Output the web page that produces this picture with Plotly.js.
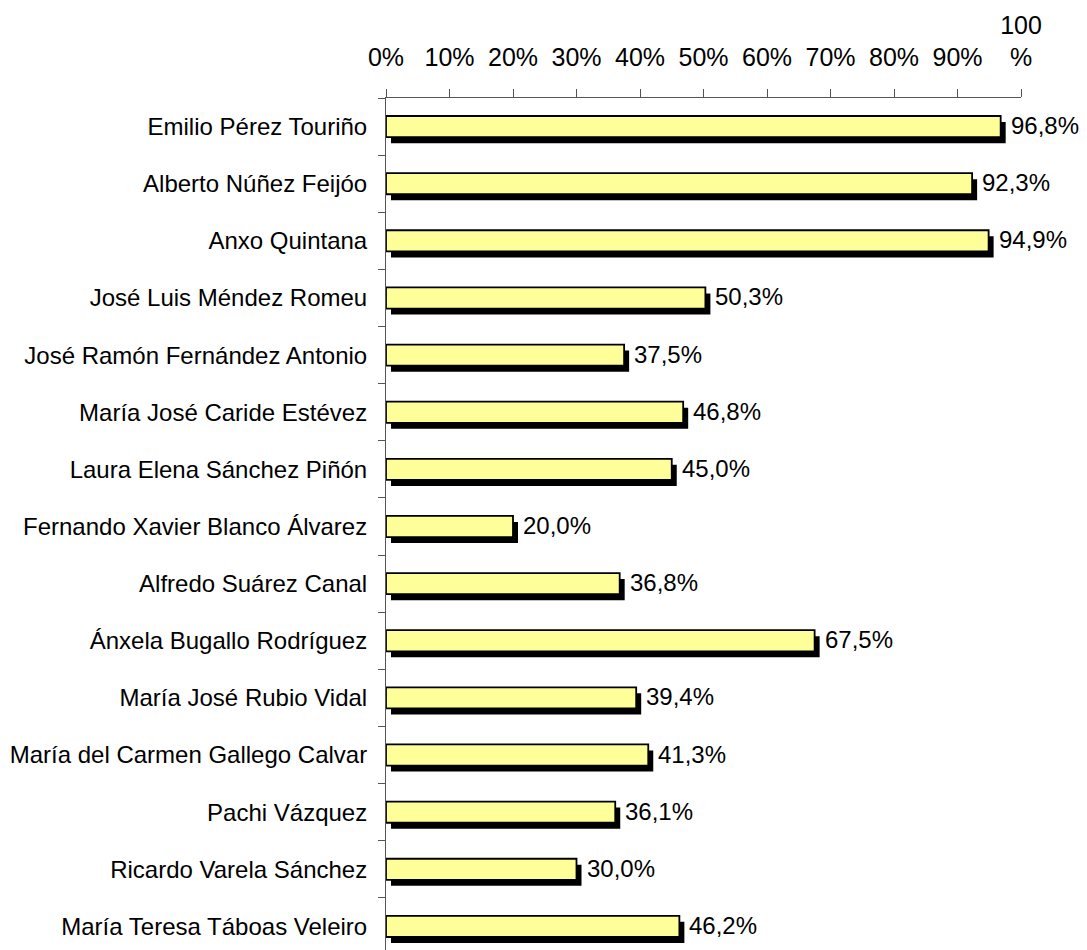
<!DOCTYPE html>
<html>
<head>
<meta charset="utf-8">
<script src="https://cdn.plot.ly/plotly-3.0.1.min.js"></script>
<style>html,body{margin:0;padding:0;background:#fff;overflow:hidden}</style>
</head>
<body>
<div id="chart" style="width:1087px;height:955px"></div>
<script>
const categories = [
  "Emilio Pérez Touriño",
  "Alberto Núñez Feijóo",
  "Anxo Quintana",
  "José Luis Méndez Romeu",
  "José Ramón Fernández Antonio",
  "María José Caride Estévez",
  "Laura Elena Sánchez Piñón",
  "Fernando Xavier Blanco Álvarez",
  "Alfredo Suárez Canal",
  "Ánxela Bugallo Rodríguez",
  "María José Rubio Vidal",
  "María del Carmen Gallego Calvar",
  "Pachi Vázquez",
  "Ricardo Varela Sánchez",
  "María Teresa Táboas Veleiro"
];
const values = [96.8, 92.3, 94.9, 50.3, 37.5, 46.8, 45.0, 20.0, 36.8, 67.5, 39.4, 41.3, 36.1, 30.0, 46.2];
const tickVals = [0, 10, 20, 30, 40, 50, 60, 70, 80, 90, 100];
const tickText = ["0%", "10%", "20%", "30%", "40%", "50%", "60%", "70%", "80%", "90%", "100<br>%"];

const FONT = "Liberation Sans, Arial, sans-serif";
const W = 1087, H = 955, ML = 386, MR = 66, MT = 98, MB = 0;
const pxPerUnitX = (W - ML - MR) / 100;
const pxPerCat = (H - MT - MB) / categories.length;
const shadowPxX = 5, shadowPxY = 6;
const barW = 0.37;

const fmt = v => v.toFixed(1).replace('.', ',') + '%';

const shadow = {
  type: 'bar', orientation: 'h',
  y: categories, x: values,
  base: shadowPxX / pxPerUnitX,
  width: barW, offset: -barW / 2 + shadowPxY / pxPerCat,
  marker: {color: '#000000', line: {width: 0}},
  hoverinfo: 'skip', showlegend: false
};
const bars = {
  type: 'bar', orientation: 'h',
  y: categories, x: values,
  width: barW, offset: -barW / 2,
  marker: {color: '#FFFF99', line: {color: '#000000', width: 1.8}},
  showlegend: false
};

const annotations = values.map((v, i) => ({
  x: v, y: categories[i], xref: 'x', yref: 'y',
  text: fmt(v), showarrow: false, xanchor: 'left', yanchor: 'middle',
  xshift: shadowPxX + 3, yshift: 1,
  font: {family: FONT, size: 24, color: '#000'}
}));

const layout = {
  width: W, height: H,
  margin: {l: ML, r: MR, t: MT, b: MB, pad: 0},
  paper_bgcolor: '#fff', plot_bgcolor: '#fff',
  barmode: 'overlay',
  font: {family: FONT, size: 24, color: '#000'},
  xaxis: {
    side: 'top', range: [0, 100], tickvals: tickVals, ticktext: tickText,
    ticks: 'outside', ticklen: 8, tickcolor: '#555', tickwidth: 1,
    showline: true, linecolor: '#555', linewidth: 1,
    showgrid: false, zeroline: false, ticklabelstandoff: 13,
    tickfont: {family: FONT, size: 25, color: '#000'}
  },
  yaxis: {
    type: 'category', autorange: 'reversed',
    tickson: 'boundaries', ticks: 'outside', ticklen: 7, tickcolor: '#555', tickwidth: 1,
    showline: true, linecolor: '#555', linewidth: 1,
    showgrid: false, zeroline: false, ticklabelstandoff: 13,
    tickfont: {family: FONT, size: 24, color: '#000'}
  },
  annotations: annotations
};

Plotly.newPlot('chart', [shadow, bars], layout, {displayModeBar: false, staticPlot: true});
</script>
</body>
</html>
